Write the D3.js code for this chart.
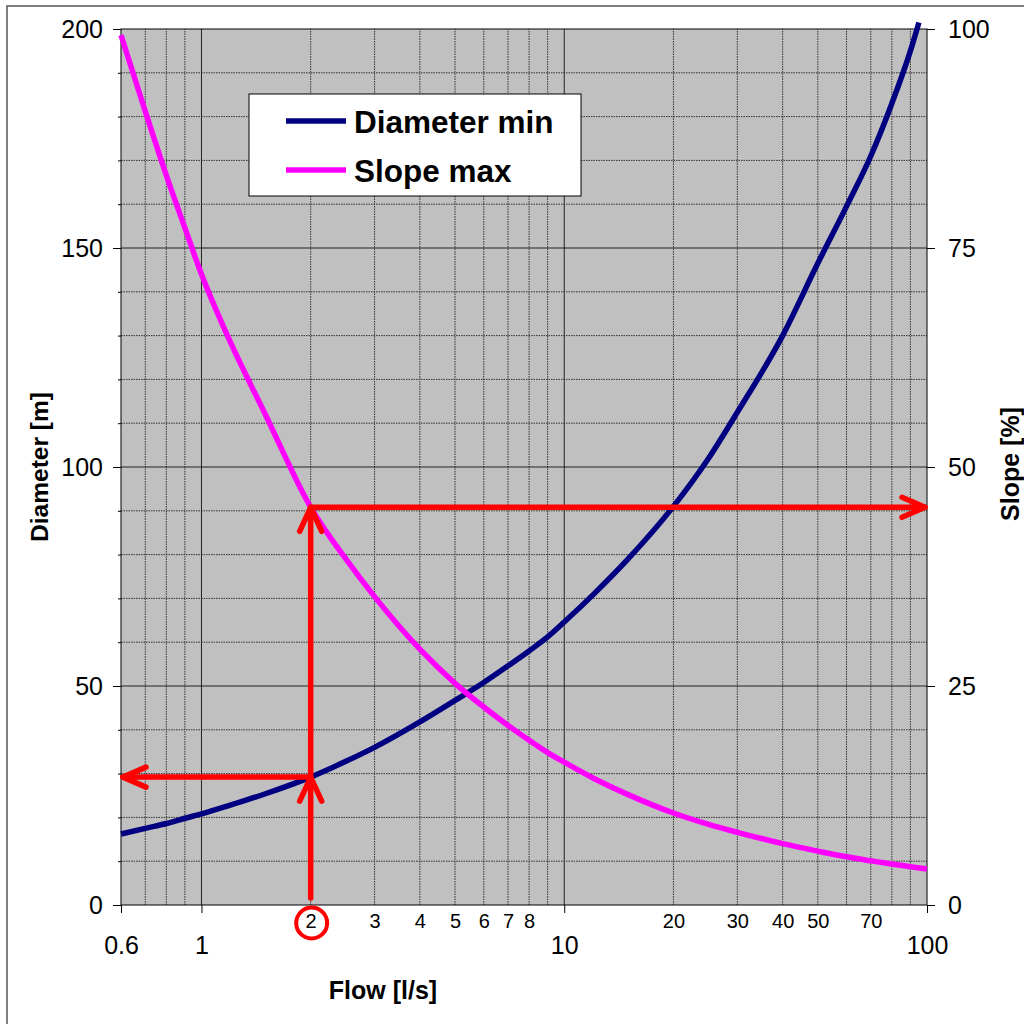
<!DOCTYPE html>
<html>
<head>
<meta charset="utf-8">
<script src="https://cdn.jsdelivr.net/npm/d3@7"></script>
<style>
  body { margin: 0; background: #fff; }
  svg { display: block; font-family: "Liberation Sans", Arial, sans-serif; }
</style>
</head>
<body>
<svg id="chart" width="1024" height="1024"></svg>
<script>
// data
const diamFlow = [0.6, 0.7, 0.8, 0.9, 1, 1.2, 1.5, 2, 2.5, 3, 4, 5, 6, 7, 8, 9, 10, 12, 15, 20, 25, 30, 40, 50, 60, 70, 80, 90, 95];
const diamMin = [16.2, 17.5, 18.6, 19.8, 20.8, 22.8, 25.4, 29.2, 32.8, 36, 41.8, 46.7, 50.8, 54.6, 58, 61.2, 64.6, 70.8, 79, 91, 102, 112.5, 130, 146.5, 159.5, 171, 183, 195, 201.5];
const slopeFlow = [0.6, 0.7, 0.8, 0.9, 1, 1.2, 1.5, 2, 2.5, 3, 4, 5, 6, 7, 8, 9, 10, 12, 15, 20, 25, 30, 40, 50, 60, 70, 80, 90, 100];
const slopeMax = [99.3, 90.6, 83.3, 77.3, 72, 64.3, 56, 45.4, 39.5, 35.2, 29.2, 25.3, 22.6, 20.5, 18.8, 17.4, 16.3, 14.5, 12.6, 10.5, 9.2, 8.3, 7.0, 6.15, 5.5, 5.05, 4.67, 4.37, 4.1];

const flowMajor = [0.6, 1, 10, 100];
const flowMinorLabels = [2, 3, 4, 5, 6, 7, 8, 20, 30, 40, 50, 70];
const flowGrid = [0.7, 0.8, 0.9, 2, 3, 4, 5, 6, 7, 8, 9, 20, 30, 40, 50, 60, 70, 80, 90];
const diamTicks = [0, 50, 100, 150, 200];
const slopeTicks = [0, 25, 50, 75, 100];

// reading example: flow 2 l/s
const readFlow = 2;
const readDiam = 29.2;
const readSlope = 45.4;

const margin = { top: 29, right: 97, bottom: 119, left: 121 };
const width = 1024, height = 1024;

const svg = d3.select('#chart');

// chart frame
svg.append('rect')
  .attr('x', 7).attr('y', 6)
  .attr('width', 1100).attr('height', 1100)
  .attr('fill', 'none')
  .attr('stroke', '#555')
  .attr('stroke-width', 1.5);

const x = d3.scaleLog()
  .domain([0.6, 100])
  .range([margin.left, width - margin.right]);

const yL = d3.scaleLinear()
  .domain([0, 200])
  .range([height - margin.bottom, margin.top]);

const yR = d3.scaleLinear()
  .domain([0, 100])
  .range([height - margin.bottom, margin.top]);

const x0 = x.range()[0], x1 = x.range()[1];
const y0 = yL.range()[0], y1 = yL.range()[1];
const hMinor = d3.range(10, 200, 10).filter((d) => d % 50 !== 0);

// plot background
svg.append('rect')
  .attr('x', x0).attr('y', y1)
  .attr('width', x1 - x0).attr('height', y0 - y1)
  .attr('fill', '#c0c0c0');

const grid = svg.append('g');

// minor grid (dotted)
grid.selectAll('.vmin')
  .data(flowGrid)
  .join('line')
  .attr('x1', (d) => x(d)).attr('x2', (d) => x(d))
  .attr('y1', y0).attr('y2', y1)
  .attr('stroke', '#333')
  .attr('stroke-dasharray', '1.5,1')
  .attr('stroke-width', 1);

grid.selectAll('.hmin')
  .data(hMinor)
  .join('line')
  .attr('x1', x0).attr('x2', x1)
  .attr('y1', (d) => yL(d)).attr('y2', (d) => yL(d))
  .attr('stroke', '#333')
  .attr('stroke-dasharray', '1.5,1')
  .attr('stroke-width', 1);

// major grid (solid)
grid.selectAll('.vmaj')
  .data([1, 10])
  .join('line')
  .attr('x1', (d) => x(d)).attr('x2', (d) => x(d))
  .attr('y1', y0).attr('y2', y1)
  .attr('stroke', '#222');

grid.selectAll('.hmaj')
  .data([50, 100, 150])
  .join('line')
  .attr('x1', x0).attr('x2', x1)
  .attr('y1', (d) => yL(d)).attr('y2', (d) => yL(d))
  .attr('stroke', '#222');

// plot border
svg.append('rect')
  .attr('x', x0).attr('y', y1)
  .attr('width', x1 - x0).attr('height', y0 - y1)
  .attr('fill', 'none')
  .attr('stroke', '#000')
  .attr('stroke-width', 1);

// left axis
const leftAxis = svg.append('g')
  .attr('transform', `translate(${x0},0)`)
  .call(d3.axisLeft(yL).tickValues(diamTicks).tickSize(8).tickPadding(10).tickFormat(d3.format('d')));
leftAxis.select('.domain').remove();
leftAxis.selectAll('text').attr('font-size', 25).attr('fill', '#000').attr('font-family', null);

svg.append('g')
  .attr('transform', `translate(${x0},0)`)
  .call(d3.axisLeft(yL).tickValues(hMinor).tickSize(3).tickFormat(''))
  .select('.domain').remove();

// right axis
const rightAxis = svg.append('g')
  .attr('transform', `translate(${x1},0)`)
  .call(d3.axisRight(yR).tickValues(slopeTicks).tickSize(8).tickPadding(13).tickFormat(d3.format('d')));
rightAxis.select('.domain').remove();
rightAxis.selectAll('text').attr('font-size', 25).attr('fill', '#000').attr('font-family', null);

// bottom axis: major labels
const bottomAxis = svg.append('g')
  .attr('transform', `translate(0,${y0})`)
  .call(d3.axisBottom(x).tickValues(flowMajor).tickSize(8).tickPadding(23).tickFormat((d) => String(d)));
bottomAxis.select('.domain').remove();
bottomAxis.selectAll('text').attr('font-size', 25).attr('fill', '#000').attr('font-family', null);

// bottom axis: minor labels
const minorAxis = svg.append('g')
  .attr('transform', `translate(0,${y0})`)
  .call(d3.axisBottom(x).tickValues(flowMinorLabels).tickSize(0).tickPadding(9).tickFormat((d) => String(d)));
minorAxis.select('.domain').remove();
minorAxis.selectAll('text').attr('font-size', 20).attr('fill', '#000').attr('font-family', null);

// circle around the read-off flow value
svg.append('circle')
  .attr('cx', x(readFlow) + 1).attr('cy', y0 + 18)
  .attr('r', 15.5)
  .attr('fill', 'none')
  .attr('stroke', '#ff0000')
  .attr('stroke-width', 4);

// series lines
const lineD = d3.line()
  .x((d, i) => x(diamFlow[i]))
  .y((d) => yL(d))
  .curve(d3.curveMonotoneX);

const lineS = d3.line()
  .x((d, i) => x(slopeFlow[i]))
  .y((d) => yR(d))
  .curve(d3.curveMonotoneX);

svg.append('path')
  .datum(diamMin)
  .attr('d', lineD)
  .attr('fill', 'none')
  .attr('stroke', '#000080')
  .attr('stroke-width', 5.5);

svg.append('path')
  .datum(slopeMax)
  .attr('d', lineS)
  .attr('fill', 'none')
  .attr('stroke', '#ff00ff')
  .attr('stroke-width', 5.5);

// red reading arrows
const red = svg.append('g')
  .attr('stroke', '#ff0000')
  .attr('stroke-width', 5.5)
  .attr('stroke-linecap', 'round')
  .attr('stroke-linejoin', 'round')
  .attr('fill', 'none');

const ax = x(readFlow);
const ayD = yL(readDiam);
const ayS = yR(readSlope);

red.append('path').attr('d', `M${ax},${y0 - 7}V${ayS}H${x1 - 2}`);
red.append('path').attr('d', `M${ax},${ayD}H${x0 + 2}`);
// up arrowheads
[ayD, ayS].forEach((yy) => {
  red.append('path').attr('d', `M${ax - 11},${yy + 24}L${ax},${yy}L${ax + 11},${yy + 24}`);
});
// right arrowhead
red.append('path').attr('d', `M${x1 - 25},${ayS - 10}L${x1 - 2},${ayS}L${x1 - 25},${ayS + 10}`);
// left arrowhead
red.append('path').attr('d', `M${x0 + 25},${ayD - 10}L${x0 + 2},${ayD}L${x0 + 25},${ayD + 10}`);

// axis titles
svg.append('text')
  .attr('x', 383).attr('y', 999)
  .attr('text-anchor', 'middle')
  .attr('font-size', 25).attr('font-weight', 'bold')
  .text('Flow [l/s]');

svg.append('text')
  .attr('transform', 'translate(48,467) rotate(-90)')
  .attr('text-anchor', 'middle')
  .attr('font-size', 24.5).attr('font-weight', 'bold')
  .text('Diameter [m]');

svg.append('text')
  .attr('transform', 'translate(1019,464) rotate(-90)')
  .attr('text-anchor', 'middle')
  .attr('font-size', 25).attr('font-weight', 'bold')
  .text('Slope [%]');

// legend
const legend = svg.append('g');
legend.append('rect')
  .attr('x', 249).attr('y', 94)
  .attr('width', 332).attr('height', 102)
  .attr('fill', '#fff')
  .attr('stroke', '#000')
  .attr('stroke-width', 1);

const legendItems = [
  { name: 'Diameter min', color: '#000080' },
  { name: 'Slope max', color: '#ff00ff' },
];
legendItems.forEach((it, i) => {
  const ly = 121 + i * 49;
  legend.append('line')
    .attr('x1', 286).attr('x2', 346)
    .attr('y1', ly).attr('y2', ly)
    .attr('stroke', it.color)
    .attr('stroke-width', 5.5);
  legend.append('text')
    .attr('x', 354).attr('y', ly + 12)
    .attr('font-size', 31.5).attr('font-weight', 'bold')
    .text(it.name);
});
</script>
</body>
</html>
